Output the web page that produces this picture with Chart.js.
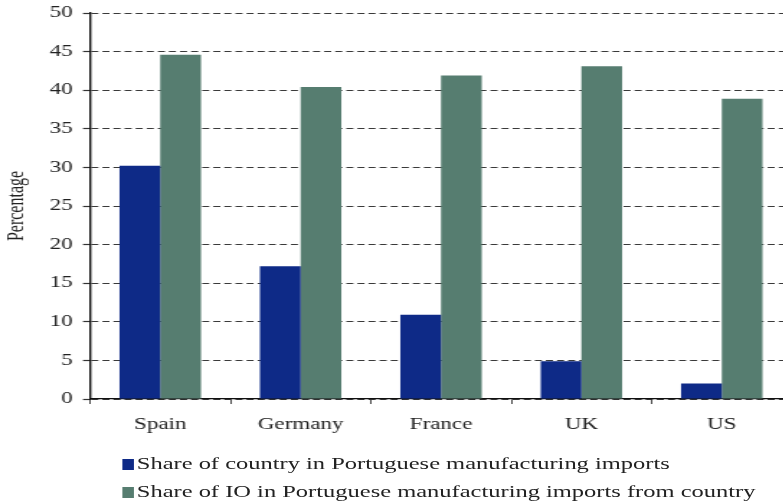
<!DOCTYPE html>
<html>
<head>
<meta charset="utf-8">
<script src="https://cdn.jsdelivr.net/npm/chart.js@4"></script>
<style>
  html, body { margin: 0; padding: 0; background: #fff; overflow: hidden; }
  #wrap { position: relative; width: 783px; height: 502px; overflow: hidden; }
  /* a figura original esta esticada na horizontal */
  #inner { position: absolute; left: 0; top: 0; width: 550px; height: 502px; transform: scaleX(1.44); transform-origin: 0 0; }
  #chart { position: absolute; left: 0; top: 0; }
  #legend { position: absolute; left: 85.4px; top: 453px; font-family: "Liberation Serif", serif; font-size: 17px; color: #222; }
  #legend div { height: 28px; line-height: 22px; white-space: nowrap; }
  #legend span.box { display: inline-block; width: 7.6px; height: 11px; margin-right: 2px; vertical-align: -1px; }
</style>
</head>
<body>
<div id="wrap">
  <div id="inner">
    <canvas id="chart" width="550" height="440"></canvas>
    <div id="legend"></div>
  </div>
</div>
<script>
// Paises e valores (%)
const paises = ['Spain', 'Germany', 'France', 'UK', 'US'];
const shareImports = [30.2, 17.2, 10.9, 4.9, 2.0];
const shareIO = [44.6, 40.4, 41.9, 43.1, 38.9];
const nomesSeries = [
  'Share of country in Portuguese manufacturing imports',
  'Share of IO in Portuguese manufacturing imports from country'
];
const cores = ['#0E2A87', '#567D70'];

const fonte = { family: '"Liberation Serif", serif', size: 16 };

const ctx = document.getElementById('chart').getContext('2d');
const grafico = new Chart(ctx, {
  type: 'bar',
  data: {
    labels: paises,
    datasets: [
      { label: nomesSeries[0], data: shareImports, backgroundColor: cores[0] },
      { label: nomesSeries[1], data: shareIO, backgroundColor: cores[1] }
    ]
  },
  options: {
    responsive: false,
    animation: false,
    layout: { padding: { top: 13, right: 0, left: 0, bottom: 0 } },
    categoryPercentage: 0.58,
    barPercentage: 1,
    plugins: { legend: { display: false }, tooltip: { enabled: false } },
    scales: {
      x: {
        grid: { drawOnChartArea: false, offset: true, tickLength: 5, tickColor: '#333', tickWidth: 0.9 },
        border: { color: '#111', width: 1.3 },
        ticks: { font: fonte, color: '#222', padding: 11 },
        afterFit: s => { s.height = 41; }
      },
      y: {
        min: 0, max: 50,
        ticks: { stepSize: 5, font: fonte, color: '#222', padding: 7 },
        grid: { color: '#3a3a3a', lineWidth: 1, tickLength: 4.9, tickColor: '#333', tickWidth: 1.2 },
        border: { color: '#111', width: 1.4, dash: [4.9, 2.8] },
        title: { display: true, text: 'Percentage', font: fonte, color: '#222', padding: { top: 2, bottom: 0 } },
        afterFit: s => { s.width = 62.5; s.paddingTop = 0; s.paddingBottom = 0; }
      }
    }
  }
});

// legenda em HTML
const leg = document.getElementById('legend');
nomesSeries.forEach((n, i) => {
  const row = document.createElement('div');
  row.innerHTML = '<span class="box" style="background:' + cores[i] + '"></span>' + n;
  leg.appendChild(row);
});
</script>
</body>
</html>
